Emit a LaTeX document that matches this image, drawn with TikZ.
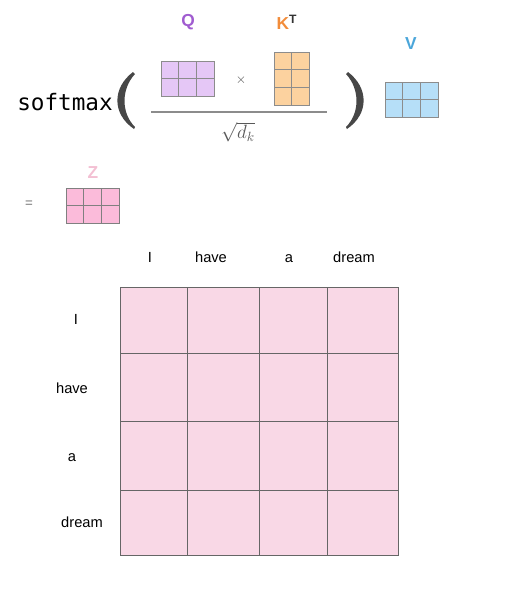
\documentclass[tikz,border=0pt]{standalone}
\usepackage{fontspec}
\setmainfont{Liberation Sans}
\setmonofont{DejaVu Sans Mono}
\begin{document}
\begin{tikzpicture}[x=0.75pt,y=-0.75pt,
  cellline/.style={draw=black!55,line width=0.6pt},
  lbl/.style={font=\fontsize{11}{13}\selectfont,text=black,text height=8pt,text depth=2pt},
  mlabel/.style={font=\bfseries\fontsize{13}{15}\selectfont},
  paren/.style={fill=black!72}]
\useasboundingbox (0,0) rectangle (512,590);
\definecolor{qcol}{HTML}{E5C7F6}
\definecolor{qtxt}{HTML}{A05CD0}
\definecolor{kcol}{HTML}{FCD29F}
\definecolor{ktxt}{HTML}{F28C3A}
\definecolor{vcol}{HTML}{B6DFF8}
\definecolor{vtxt}{HTML}{4BA6DA}
\definecolor{zcol}{HTML}{FBBBDA}
\definecolor{ztxt}{HTML}{F3C0D3}
\definecolor{gcol}{HTML}{F9D8E6}
% softmax
\node[font=\ttfamily\fontsize{17}{20}\selectfont,anchor=west,inner sep=0pt] (sm) at (17,102) {softmax};
\fill[paren] (133,72) .. controls (112,88) and (112,114) .. (134,129)
   -- (135,127) .. controls (121,113) and (121,89) .. (135,74) -- cycle;
\fill[paren] (348,72) .. controls (369,88) and (369,114) .. (347,129)
   -- (346,127) .. controls (360,113) and (360,89) .. (346,74) -- cycle;
% Q
\node[mlabel,text=qtxt] (ql) at (188,22) {Q};
\fill[qcol] (161,61) rectangle (214,96);
\foreach \x in {178.67,196.33} \draw[cellline,draw=black!45] (\x,61) -- (\x,96);
\draw[cellline,draw=black!45] (161,78.5) -- (214,78.5);
\draw[cellline,draw=black!45] (161,61) rectangle (214,96);
\node[font=\fontsize{10}{12}\selectfont,text=black!70] (times) at (241,80) {$\times$};
% K^T
\node[mlabel,text=ktxt] (kl) at (287,22) {K\textsuperscript{\textcolor{black!80}{T}}};
\fill[kcol] (274,52) rectangle (309,105);
\foreach \y in {69.67,87.33} \draw[cellline,draw=black!45] (274,\y) -- (309,\y);
\draw[cellline,draw=black!45] (291.5,52) -- (291.5,105);
\draw[cellline,draw=black!45] (274,52) rectangle (309,105);
% fraction
\draw[black!45,line width=1.2pt] (151,112) -- (327,112);
\node[text=black!65,font=\fontsize{14}{16}\selectfont] (sq) at (238,132) {$\sqrt{d_k}$};
% V
\node[mlabel,text=vtxt] (vl) at (411,44) {V};
\fill[vcol] (385,82) rectangle (438,117);
\foreach \x in {402.67,420.33} \draw[cellline,draw=black!45] (\x,82) -- (\x,117);
\draw[cellline,draw=black!45] (385,99.5) -- (438,99.5);
\draw[cellline,draw=black!45] (385,82) rectangle (438,117);
% = Z
\node[text=black!55,font=\fontsize{10}{12}\selectfont] (eq) at (29,204) {=};
\node[mlabel,text=ztxt] (zl) at (93,173) {Z};
\fill[zcol] (66,188) rectangle (119,223);
\foreach \x in {83.67,101.33} \draw[cellline,draw=black!50] (\x,188) -- (\x,223);
\draw[cellline,draw=black!50] (66,205.5) -- (119,205.5);
\draw[cellline,draw=black!50] (66,188) rectangle (119,223);
% column labels
\node[lbl] (c1) at (150,258) {I};
\node[lbl] (c2) at (211,258) {have};
\node[lbl] (c3) at (289,258) {a};
\node[lbl] (c4) at (354,258) {dream};
% row labels
\node[lbl] (r1) at (76,320) {I};
\node[lbl] (r2) at (72,389) {have};
\node[lbl] (r3) at (72,457) {a};
\node[lbl] (r4) at (82,523) {dream};
% big grid
\fill[gcol] (120,287) rectangle (398,555);
\foreach \x in {187,259,327} \draw[cellline,draw=black!60] (\x,287) -- (\x,555);
\foreach \y in {353,421,490} \draw[cellline,draw=black!60] (120,\y) -- (398,\y);
\draw[cellline,draw=black!60] (120,287) rectangle (398,555);
\end{tikzpicture}
\end{document}
